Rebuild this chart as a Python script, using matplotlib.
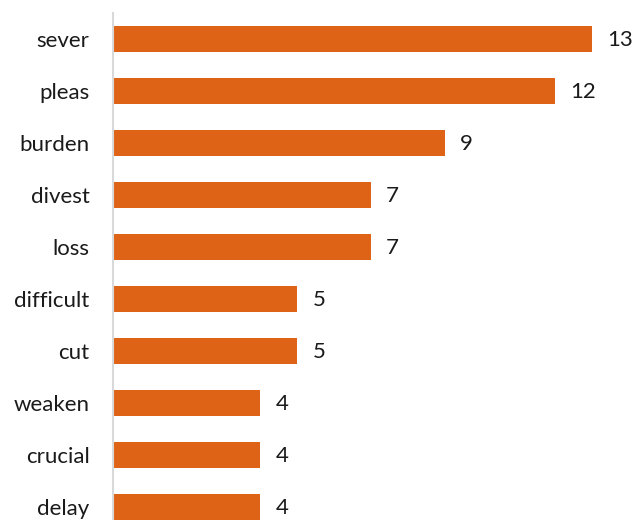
import numpy as np
import matplotlib
matplotlib.use('Agg')
from matplotlib import pyplot as plt

# data, top to bottom
words = ['sever', 'pleas', 'burden', 'divest', 'loss',
         'difficult', 'cut', 'weaken', 'crucial', 'delay']
counts = [13, 12, 9, 7, 7, 5, 5, 4, 4, 4]

plt.rcParams['font.family'] = ['Lato', 'DejaVu Sans']

fig = plt.figure(figsize=(6.33, 5.2), dpi=100)
ax = fig.add_axes([113 / 633, 0, 500 / 633, 507 / 520])

y_pos = np.arange(len(words))
bars = ax.barh(y_pos, counts, height=0.5, color='#DF6316')

ax.set_xlim(0, 500 / 36.85)
ax.set_ylim(9.25, -0.5)
ax.set_yticks(y_pos)
ax.set_yticklabels(words, fontsize=16, color='#1a1a1a')
ax.tick_params(axis='y', length=0, pad=17)
ax.set_xticks([])

for s in ['top', 'right', 'bottom']:
    ax.spines[s].set_visible(False)
ax.spines['left'].set_color('#d9d9d9')
ax.spines['left'].set_linewidth(1.5)

for b, v in zip(bars, counts):
    ax.annotate(str(v), (b.get_width(), b.get_y() + b.get_height() / 2),
                xytext=(11, -1), textcoords='offset points',
                va='center', ha='left', fontsize=16, color='#1a1a1a')

fig.savefig('out.png', dpi=100)
